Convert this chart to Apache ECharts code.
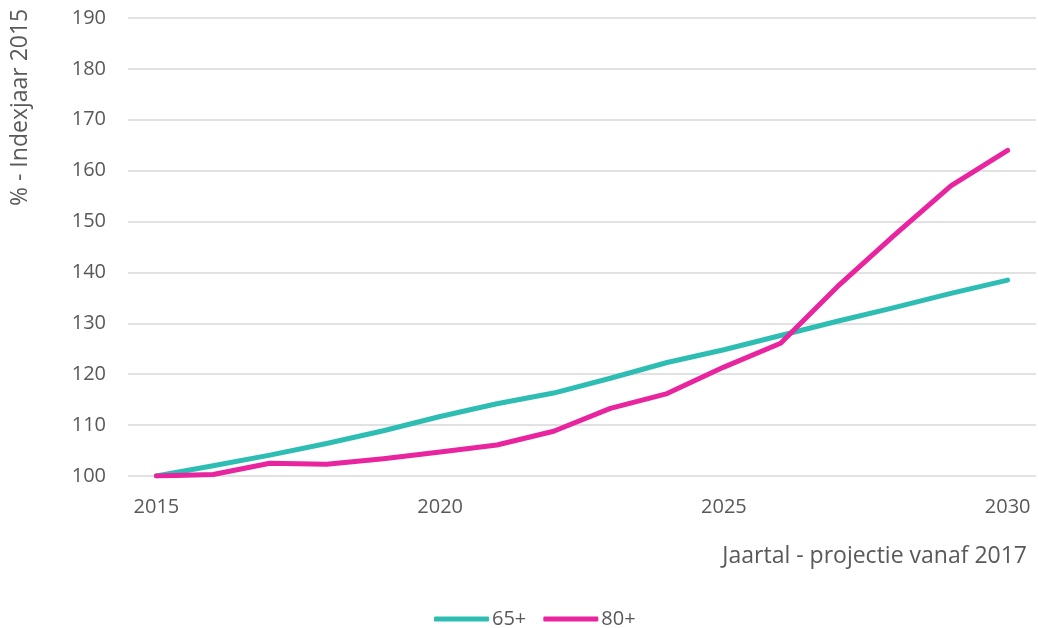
<!DOCTYPE html>
<html><head><meta charset="utf-8">
<script src="https://cdn.jsdelivr.net/npm/echarts@6/dist/echarts.min.js"></script>
<style>html,body{margin:0;padding:0;background:#fff}#c{width:1038px;height:628px}</style>
</head><body><div id="c"></div>
<script>
const years = ['2015','2016','2017','2018','2019','2020','2021','2022','2023','2024','2025','2026','2027','2028','2029','2030'];
const s65 = [100, 102, 104.1, 106.4, 108.9, 111.7, 114.2, 116.3, 119.2, 122.3, 124.8, 127.6, 130.4, 133.1, 135.9, 138.5];
const s80 = [100, 100.3, 102.5, 102.3, 103.4, 104.7, 106.1, 108.8, 113.3, 116.2, 121.4, 126.1, 137.2, 147.3, 157, 164];
const yTicks = {min: 100, max: 190, interval: 10};
const font = 'Open Sans';
const chart = echarts.init(document.getElementById('c'));
chart.setOption({
  animation: false,
  textStyle: {fontFamily: font, color: '#595959'},
  grid: {left: 128, right: 2, top: 18, bottom: 152},
  xAxis: {
    type: 'category', data: years, boundaryGap: true,
    axisLine: {show: false}, axisTick: {show: false},
    axisLabel: {interval: 4, fontSize: 20, color: '#595959', margin: 21, fontFamily: font}
  },
  yAxis: {
    type: 'value', min: yTicks.min, max: yTicks.max, interval: yTicks.interval,
    axisLine: {show: false}, axisTick: {show: false},
    axisLabel: {fontSize: 20, color: '#595959', margin: 22, fontFamily: font},
    splitLine: {lineStyle: {color: '#d9d9d9', width: 1.5}}
  },
  legend: {
    top: 604, left: 429, itemWidth: 55, itemHeight: 5, itemGap: 17,
    icon: 'roundRect',
    textStyle: {fontSize: 20, color: '#595959', fontFamily: font, padding: [0,0,0,-2]},
    data: ['65+', '80+']
  },
  graphic: [
    {type: 'text', x: 1027, y: 556, style: {text: 'Jaartal - projectie vanaf 2017', font: '23px "Open Sans"', fill: '#595959', textAlign: 'right', textVerticalAlign: 'middle'}},
    {type: 'text', x: 9, y: 206, rotation: Math.PI/2, style: {text: '% - Indexjaar 2015', font: '23px "Open Sans"', fill: '#595959'}}
  ],
  series: [
    {name: '65+', type: 'line', data: s65, symbol: 'none', lineStyle: {width: 5, color: '#2EBDB2', cap: 'round', join: 'round'}, itemStyle: {color: '#2EBDB2'}},
    {name: '80+', type: 'line', data: s80, symbol: 'none', lineStyle: {width: 5, color: '#E8259F', cap: 'round', join: 'round'}, itemStyle: {color: '#E8259F'}}
  ]
});
</script></body></html>
